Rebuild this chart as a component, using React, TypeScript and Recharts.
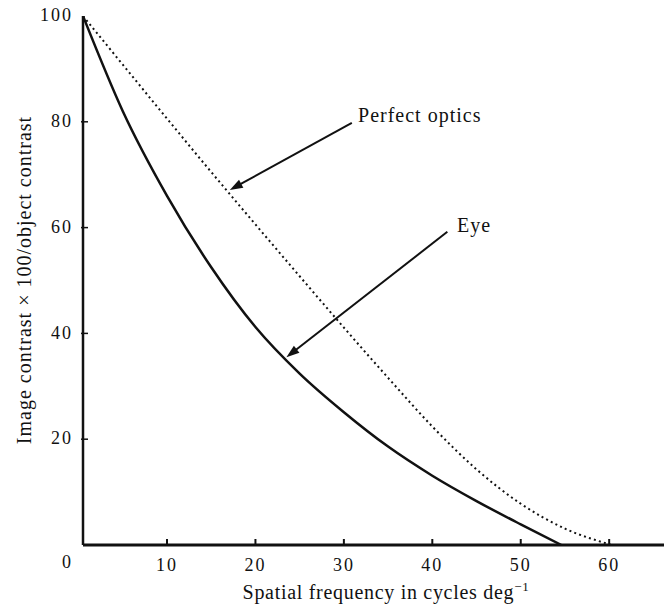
import React from 'react';
import { LineChart, Line, XAxis, YAxis, ReferenceLine, ReferenceDot } from 'recharts';

// Spatial frequency (cycles/deg) and contrast (%)
const freqEye = [0.5, 5, 10, 15, 20, 25, 30, 35, 40, 45, 50, 54.6];
const contrastEye = [100, 82, 66, 52.5, 41.2, 32.4, 25.1, 18.6, 13.1, 8.3, 3.9, 0];

const freqPerfect = [0.5, 5, 10, 15, 20, 25, 30, 35, 40, 45, 50, 55, 60.3];
const contrastPerfect = [100, 90.8, 80.6, 70.5, 60.6, 50.8, 41.1, 31.6, 22.4, 14.3, 7.8, 3.1, 0];

const xTicks = [10, 20, 30, 40, 50, 60];
const yTicks = [0, 20, 40, 60, 80, 100];

const annotationTexts = ['Perfect optics', 'Eye'];
const annotationTextPos = [
  [31.6, 80],
  [42.8, 59.2],
];
const arrowFrom = [
  [30.9, 79.8],
  [41.7, 59.2],
];
const arrowTo = [
  [17.1, 67.1],
  [23.5, 35.5],
];

const xLabel = 'Spatial frequency in cycles deg';
const yLabel = 'Image contrast \u00d7 100/object contrast';

const eyeData = freqEye.map((x, i) => ({ x, y: contrastEye[i] }));
const perfectData = freqPerfect.map((x, i) => ({ x, y: contrastPerfect[i] }));

const FONT = '"Liberation Serif", "DejaVu Serif", serif';

const XTick = (props: any) => {
  const { x, y, payload } = props;
  return (
    <g>
      <line x1={x} y1={y} x2={x} y2={y - 6} stroke="#111" strokeWidth={2} />
      <text
        x={x}
        y={y + 22}
        textAnchor="middle"
        dominantBaseline="middle"
        fontFamily={FONT}
        fontSize={18}
        letterSpacing={2}
        fill="#111"
      >
        {payload.value}
      </text>
    </g>
  );
};

const YTick = (props: any) => {
  const { x, y, payload } = props;
  const isZero = payload.value === 0;
  return (
    <g>
      {!isZero && payload.value !== 100 && (
        <line x1={x - 2} y1={y} x2={x + 5} y2={y} stroke="#111" strokeWidth={1.5} />
      )}
      <text
        x={x - 10}
        y={isZero ? y + 19 : y + 1}
        textAnchor="end"
        dominantBaseline="middle"
        fontFamily={FONT}
        fontSize={18}
        letterSpacing={2}
        fill="#111"
      >
        {payload.value}
      </text>
    </g>
  );
};

const Arrow = (props: any) => {
  const { x1, y1, x2, y2 } = props;
  const dx = x2 - x1;
  const dy = y2 - y1;
  const len = Math.sqrt(dx * dx + dy * dy) || 1;
  const ux = dx / len;
  const uy = dy / len;
  const hl = 13;
  const hw = 4.5;
  const bx = x2 - ux * hl;
  const by = y2 - uy * hl;
  const pts = `${x2},${y2} ${bx - uy * hw},${by + ux * hw} ${bx + uy * hw},${by - ux * hw}`;
  return (
    <g>
      <line x1={x1} y1={y1} x2={bx + ux * 2} y2={by + uy * 2} stroke="#111" strokeWidth={2} />
      <polygon points={pts} fill="#111" />
    </g>
  );
};

const makeTextShape = (txt: string) => (props: any) => {
  const { cx, cy } = props;
  return (
    <text
      x={cx}
      y={cy}
      fontFamily={FONT}
      fontSize={20}
      letterSpacing={1}
      fill="#111"
    >
      {txt}
    </text>
  );
};

export default function App() {
  return (
    <div style={{ position: 'absolute', left: 0, top: 0, width: 664, height: 605, background: '#fff' }}>
      <LineChart
        width={664}
        height={605}
        margin={{ top: 16, right: 0, left: 0, bottom: 0 }}
      >
        <XAxis
          type="number"
          dataKey="x"
          domain={[0.5, 66.2]}
          ticks={xTicks}
          tick={<XTick />}
          tickLine={false}
          tickSize={0}
          tickMargin={0}
          height={60}
          axisLine={{ stroke: '#111', strokeWidth: 3 }}
          allowDataOverflow
        />
        <YAxis
          type="number"
          dataKey="y"
          domain={[0, 100]}
          ticks={yTicks}
          tick={<YTick />}
          tickLine={false}
          tickSize={0}
          tickMargin={0}
          width={83}
          axisLine={{ stroke: '#111', strokeWidth: 2.5 }}
          allowDataOverflow
        />
        <Line
          data={perfectData}
          dataKey="y"
          type="monotone"
          stroke="#111"
          strokeWidth={2}
          strokeDasharray="2 3.2"
          dot={false}
          isAnimationActive={false}
        />
        <Line
          data={eyeData}
          dataKey="y"
          type="monotone"
          stroke="#111"
          strokeWidth={2.5}
          dot={false}
          isAnimationActive={false}
        />
        {arrowFrom.map((f, i) => (
          <ReferenceLine
            key={'a' + i}
            segment={[
              { x: f[0], y: f[1] },
              { x: arrowTo[i][0], y: arrowTo[i][1] },
            ]}
            shape={<Arrow />}
            ifOverflow="visible"
          />
        ))}
        {annotationTexts.map((t, i) => (
          <ReferenceDot
            key={'t' + i}
            x={annotationTextPos[i][0]}
            y={annotationTextPos[i][1]}
            r={0}
            shape={makeTextShape(t)}
            ifOverflow="visible"
          />
        ))}
        <text
          x={386}
          y={599}
          textAnchor="middle"
          fontFamily={FONT}
          fontSize={20}
          letterSpacing={0.7}
          fill="#111"
        >
          {xLabel}
          <tspan dy={-8} fontSize={13}>{'\u22121'}</tspan>
        </text>
        <text
          x={0}
          y={0}
          transform="translate(31,280) rotate(-90)"
          textAnchor="middle"
          fontFamily={FONT}
          fontSize={20}
          letterSpacing={1}
          fill="#111"
        >
          {yLabel}
        </text>
      </LineChart>
    </div>
  );
}
